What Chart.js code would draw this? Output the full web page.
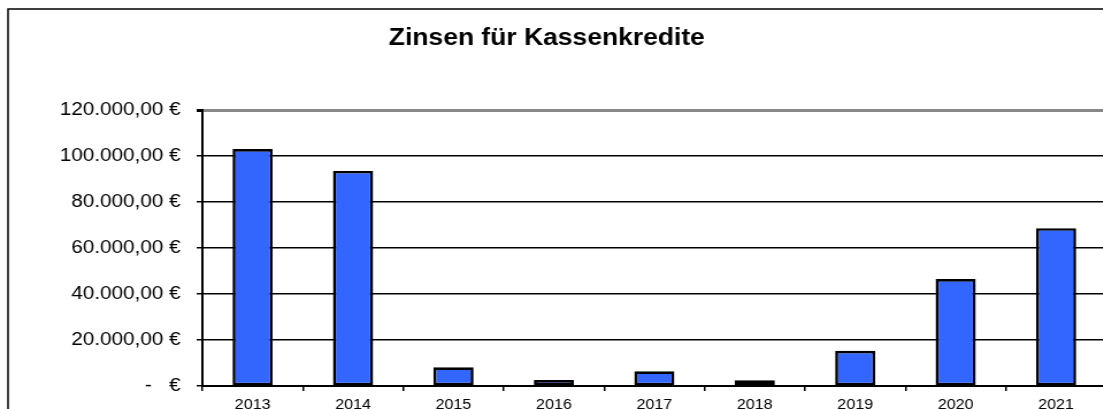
<!DOCTYPE html>
<html>
<head>
<meta charset="utf-8">
<script src="https://cdn.jsdelivr.net/npm/chart.js@4"></script>
<style>
  html, body { margin: 0; padding: 0; background: #fff; overflow: hidden; }
  /* the reference is stretched sideways, so the whole chart is stretched too */
  #wrap { transform: scaleX(1.15); transform-origin: 0 0; width: 980px; }
  #zinsChart { display: block; margin-left: -11px; }
</style>
</head>
<body>
<div id="wrap">
  <canvas id="zinsChart" width="980" height="430"></canvas>
</div>
<script>
// Data
const years = ['2013', '2014', '2015', '2016', '2017', '2018', '2019', '2020', '2021'];
const zinsen = [103000, 93500, 8100, 2600, 6400, 2500, 15300, 46500, 68600];
const yTicks = [0, 20000, 40000, 60000, 80000, 100000, 120000];

// German money format, e.g. 120.000,00 €
function euro(v) {
    if (v === 0) return '-\u00a0\u00a0\u00a0€';
    const s = String(Math.round(v)).replace(/\B(?=(\d{3})+(?!\d))/g, '.');
    return s + ',00 €';
}

// Draws white background and the outer frame of the chart
const framePlugin = {
    id: 'frame',
    beforeDraw(chart) {
        const c = chart.ctx;
        c.save();
        c.fillStyle = '#fff';
        c.fillRect(0, 0, chart.width, chart.height);
        c.strokeStyle = '#000';
        c.lineWidth = 1.5;
        c.strokeRect(18, 9, 2000, 2000);
        c.restore();
    }
};

const ctx = document.getElementById('zinsChart').getContext('2d');
const topValue = yTicks[yTicks.length - 1];

new Chart(ctx, {
    type: 'bar',
    data: {
        labels: years,
        datasets: [{
            label: 'Zinsen',
            data: zinsen,
            backgroundColor: '#3366ff',
            borderColor: '#000',
            borderWidth: 2.6,
            borderSkipped: false,
            categoryPercentage: 1,
            barPercentage: 0.40
        }]
    },
    options: {
        responsive: false,
        animation: false,
        layout: { padding: { left: 0, right: 7, top: 0, bottom: 0 } },
        plugins: {
            legend: { display: false },
            tooltip: { enabled: false },
            title: {
                display: true,
                text: 'Zinsen für Kassenkredite',
                color: '#000',
                font: { family: 'Liberation Sans, Arial, sans-serif', size: 23, weight: 'bold' },
                padding: { top: 25, bottom: 57.4 }
            }
        },
        scales: {
            x: {
                offset: true,
                grid: {
                    offset: true,
                    drawOnChartArea: false,
                    drawTicks: true,
                    tickLength: 5,
                    color: '#000',
                    lineWidth: 1.5
                },
                border: { display: true, color: '#000', width: 2 },
                ticks: {
                    color: '#000',
                    padding: 6,
                    maxRotation: 0,
                    font: { family: 'Liberation Sans, Arial, sans-serif', size: 14 }
                },
                afterFit(scale) { scale.height = 44; }
            },
            y: {
                min: 0,
                max: topValue,
                afterBuildTicks(scale) { scale.ticks = yTicks.map(v => ({ value: v })); },
                grid: {
                    color: c => (c.tick && c.tick.value === topValue ? '#888' : '#000'),
                    lineWidth: c => (c.tick && c.tick.value === topValue ? 3 : 1.5),
                    tickColor: '#000',
                    tickLength: 5
                },
                border: { display: true, color: '#000', width: 2 },
                ticks: {
                    color: '#000',
                    padding: 14,
                    font: { family: 'Liberation Sans, Arial, sans-serif', size: 18 },
                    callback: v => euro(v)
                },
                afterFit(scale) { scale.width = 187; }
            }
        }
    },
    plugins: [framePlugin]
});
</script>
</body>
</html>
